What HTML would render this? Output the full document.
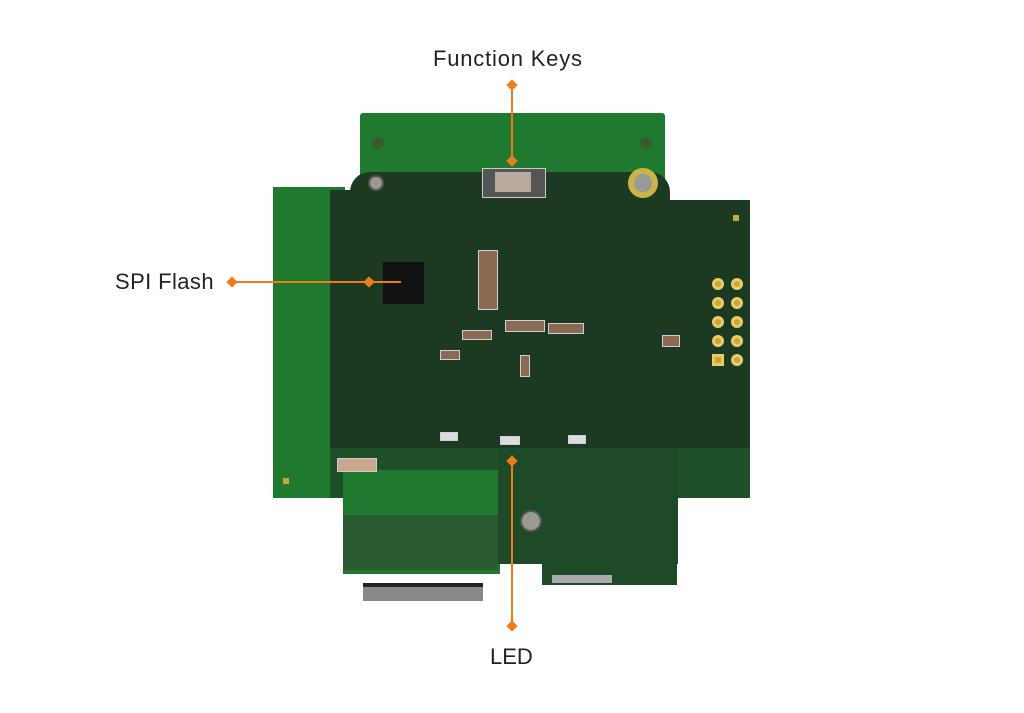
<!DOCTYPE html>
<html><head><style>
body{margin:0;width:1024px;height:713px;background:#fff;position:relative;overflow:hidden;font-family:"Liberation Sans",sans-serif}
div{position:absolute;box-sizing:border-box}
.lbl{font-size:22px;color:#222;white-space:nowrap}
.ln{background:#f07d1a}
.dot{width:8px;height:8px;background:#f07d1a;transform:rotate(45deg)}
.c{background:#8a6a50;border:1px solid #ccd;}
.pin{width:12px;height:12px;border-radius:50%;background:#c9a53a;border:3px solid #e8cc6a}
.hole{border-radius:50%;background:#9a9a90;border:2px solid #555}
</style></head><body>
<div class="lbl" style="left:433px;top:46px;letter-spacing:0.8px">Function Keys</div>
<div class="lbl" style="left:115px;top:269px;letter-spacing:0.4px">SPI Flash</div>
<div class="lbl" style="left:490px;top:644px">LED</div>

<!-- board -->
<div style="left:360px;top:113px;width:305px;height:90px;background:#1f7a30;border-radius:3px"></div>
<div style="left:273px;top:187px;width:72px;height:311px;background:#1f7a30"></div>
<div style="left:330px;top:200px;width:420px;height:298px;background:#1e5028"></div>
<div style="left:330px;top:200px;width:420px;height:248px;background:#1c3a22"></div>
<div style="left:350px;top:172px;width:320px;height:40px;background:#1c3a22;border-radius:20px 20px 0 0"></div>
<div style="left:330px;top:190px;width:40px;height:20px;background:#1c3a22"></div>
<div style="left:343px;top:470px;width:157px;height:104px;background:#1f7a30"></div>
<div style="left:343px;top:515px;width:155px;height:55px;background:#2a5a30"></div>
<div style="left:498px;top:448px;width:180px;height:116px;background:#1e4a28"></div>
<div style="left:542px;top:490px;width:135px;height:95px;background:#1e4a28"></div>
<div style="left:363px;top:583px;width:120px;height:18px;background:#888;border-top:4px solid #222"></div>
<div style="left:552px;top:575px;width:60px;height:8px;background:#aaa"></div>
<!-- holes -->
<div style="left:372px;top:137px;width:12px;height:12px;border-radius:50%;background:#3a5a30"></div>
<div style="left:640px;top:137px;width:12px;height:12px;border-radius:50%;background:#3a5a30"></div>
<div class="hole" style="left:368px;top:175px;width:16px;height:16px"></div>
<div class="hole" style="left:628px;top:168px;width:30px;height:30px;background:#999;border:6px solid #c9b34a"></div>
<div class="hole" style="left:520px;top:510px;width:22px;height:22px"></div>
<!-- key -->
<div style="left:482px;top:168px;width:64px;height:30px;border:1px solid #ccc;background:#555"></div>
<div style="left:495px;top:172px;width:36px;height:20px;background:#b9aaa0"></div>
<!-- chip -->
<div style="left:383px;top:262px;width:41px;height:42px;background:#111"></div>
<!-- header pins -->
<div class="pin" style="left:712px;top:278px"></div><div class="pin" style="left:731px;top:278px"></div>
<div class="pin" style="left:712px;top:297px"></div><div class="pin" style="left:731px;top:297px"></div>
<div class="pin" style="left:712px;top:316px"></div><div class="pin" style="left:731px;top:316px"></div>
<div class="pin" style="left:712px;top:335px"></div><div class="pin" style="left:731px;top:335px"></div>
<div class="pin" style="left:712px;top:354px;border-radius:0"></div><div class="pin" style="left:731px;top:354px"></div>
<!-- components -->
<div class="c" style="left:478px;top:250px;width:20px;height:60px"></div>
<div class="c" style="left:505px;top:320px;width:40px;height:12px"></div>
<div class="c" style="left:548px;top:323px;width:36px;height:11px"></div>
<div class="c" style="left:462px;top:330px;width:30px;height:10px"></div>
<div class="c" style="left:440px;top:350px;width:20px;height:10px"></div>
<div class="c" style="left:520px;top:355px;width:10px;height:22px"></div>
<div class="c" style="left:440px;top:432px;width:18px;height:9px;background:#ddd"></div>
<div class="c" style="left:500px;top:436px;width:20px;height:9px;background:#ddd"></div>
<div class="c" style="left:568px;top:435px;width:18px;height:9px;background:#ddd"></div>
<div class="c" style="left:337px;top:458px;width:40px;height:14px;background:#c9a98a"></div>
<div class="c" style="left:662px;top:335px;width:18px;height:12px"></div>
<div style="left:283px;top:478px;width:6px;height:6px;background:#c9a53a"></div>
<div style="left:733px;top:215px;width:6px;height:6px;background:#c9a53a"></div>
<!-- callouts -->
<div class="ln" style="left:511px;top:85px;width:2px;height:77px"></div>
<div class="dot" style="left:508px;top:81px"></div>
<div class="dot" style="left:508px;top:157px"></div>
<div class="ln" style="left:231px;top:281px;width:170px;height:2px"></div>
<div class="dot" style="left:228px;top:278px"></div>
<div class="dot" style="left:365px;top:278px"></div>
<div class="ln" style="left:511px;top:460px;width:2px;height:166px"></div>
<div class="dot" style="left:508px;top:457px"></div>
<div class="dot" style="left:508px;top:622px"></div>
</body></html>
